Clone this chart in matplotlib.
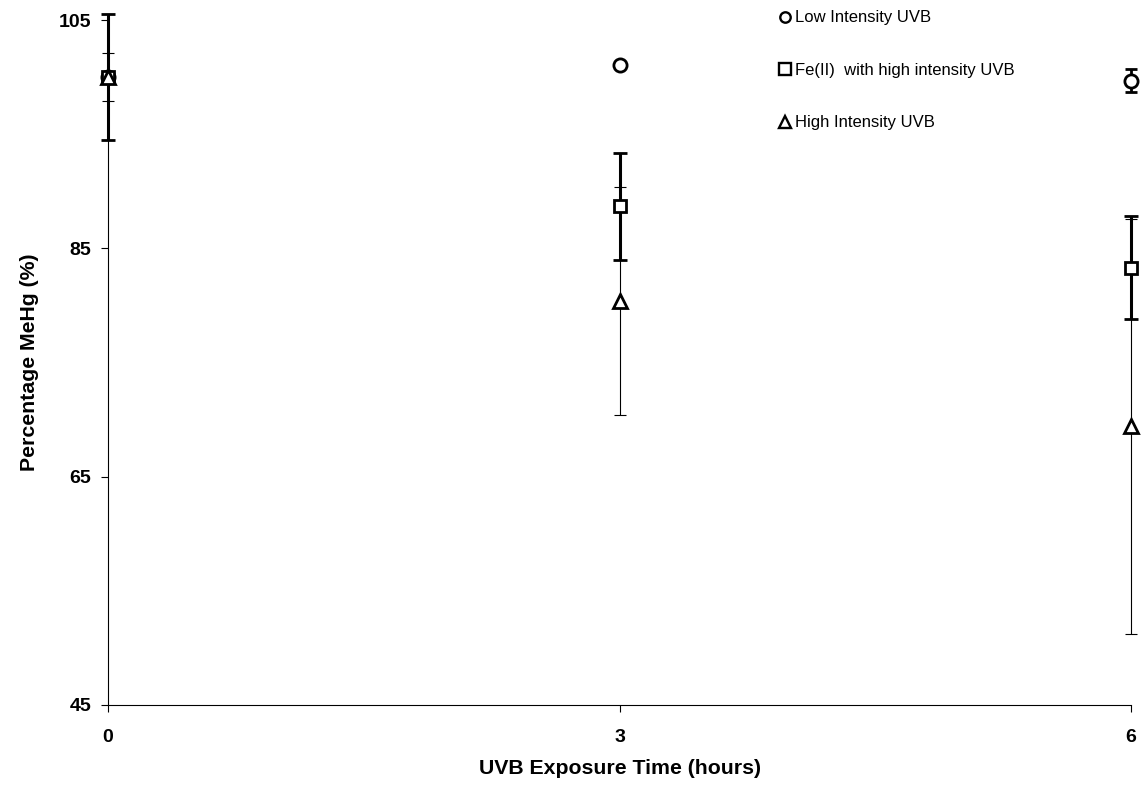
import matplotlib.pyplot as plt
from matplotlib.lines import Line2D

plt.rcParams['font.family'] = ['Liberation Sans', 'DejaVu Sans']

# exposure times (hours)
hours = [0, 3, 6]

# percentage MeHg remaining, with error bars
low_uvb = [100.0, 101.1, 99.7]
low_uvb_err = [0.0, 0.0, 1.0]

fe_high_uvb = [100.0, 88.7, 83.3]
fe_high_uvb_err = [5.5, 4.7, 4.5]

high_uvb = [100.0, 80.4, 69.4]
high_uvb_err = [2.1, 10.0, 18.2]

labels = ['Low Intensity UVB', 'Fe(II)  with high intensity UVB', 'High Intensity UVB']

fig = plt.figure(figsize=(11.43, 7.89), dpi=100)
ax = fig.add_axes([0.0945, 0.1065, 0.895, 0.868])

# thin bars for high intensity UVB, thick bars for Fe(II)
eb = ax.errorbar(hours, high_uvb, yerr=high_uvb_err, fmt='none', ecolor='black',
                 elinewidth=0.8, capsize=4.5, capthick=0.8, zorder=2)
eb2 = ax.errorbar(hours, fe_high_uvb, yerr=fe_high_uvb_err, fmt='none', ecolor='black',
                  elinewidth=2.2, capsize=5, capthick=2.0, zorder=3)
eb3 = ax.errorbar(hours, low_uvb, yerr=low_uvb_err, fmt='none', ecolor='black',
                  elinewidth=2.0, capsize=4.5, capthick=2.0, zorder=3)
for container in (eb, eb2, eb3):
    for artist in container.lines[1] + container.lines[2]:
        artist.set_clip_on(False)

ax.plot(hours, low_uvb, linestyle='none', marker='o', markersize=9.5, clip_on=False,
        markerfacecolor='white', markeredgecolor='black', markeredgewidth=2, zorder=4)
ax.plot(hours, fe_high_uvb, linestyle='none', marker='s', markersize=9, clip_on=False,
        markerfacecolor='white', markeredgecolor='black', markeredgewidth=2, zorder=5)
ax.plot(hours, high_uvb, linestyle='none', marker='^', markersize=10.5, clip_on=False,
        markerfacecolor='white', markeredgecolor='black', markeredgewidth=2, zorder=6)

ax.set_xlim(0, 6)
ax.set_ylim(45, 105)
ax.set_xticks(hours)
ax.set_yticks([45, 65, 85, 105])

for side in ['top', 'right']:
    ax.spines[side].set_visible(False)
for side in ['left', 'bottom']:
    ax.spines[side].set_linewidth(0.8)
ax.spines['left'].set_zorder(1)

ax.tick_params(axis='both', direction='out', length=5, width=0.8, labelsize=14, pad=7)
ax.tick_params(axis='x', pad=12)
for lbl in ax.get_xticklabels() + ax.get_yticklabels():
    lbl.set_fontweight('bold')

ax.set_xlabel('UVB Exposure Time (hours)', fontsize=15.3, fontweight='bold', labelpad=10)
ax.set_ylabel('Percentage MeHg (%)', fontsize=15.3, fontweight='bold', labelpad=14)

handles = [
    Line2D([], [], linestyle='none', marker='o', markersize=7.5, markerfacecolor='white',
           markeredgecolor='black', markeredgewidth=1.7),
    Line2D([], [], linestyle='none', marker='s', markersize=8, markerfacecolor='white',
           markeredgecolor='black', markeredgewidth=1.7),
    Line2D([], [], linestyle='none', marker='^', markersize=8.5, markerfacecolor='white',
           markeredgecolor='black', markeredgewidth=1.7),
]
ax.legend(handles, labels, loc='upper left', bbox_to_anchor=(0.641, 1.036), frameon=False,
          fontsize=12, labelspacing=2.25, handlelength=0.7, handletextpad=0.25)

fig.savefig('out.png', dpi=100)
